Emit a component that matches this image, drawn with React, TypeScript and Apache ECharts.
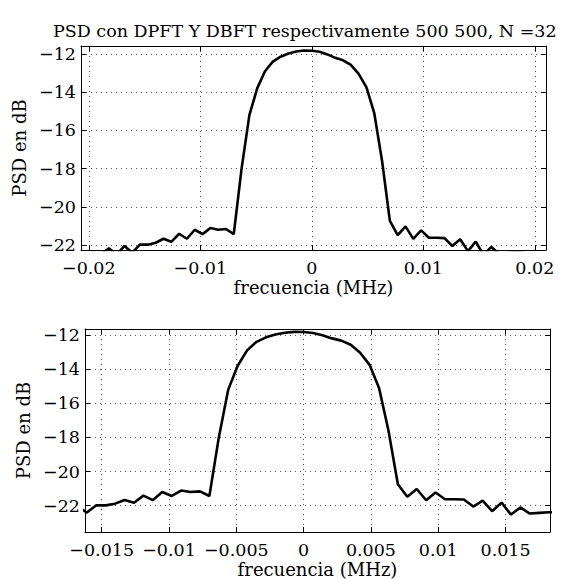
import React, { useEffect, useRef } from "react";
import * as echarts from "echarts";

const freq = [
  -0.0203, -0.0196, -0.0189, -0.0182, -0.0175, -0.0168, -0.0161, -0.0154, -0.0147, -0.014,
  -0.0133, -0.0126, -0.0119, -0.0112, -0.0105, -0.0098, -0.0091, -0.0084, -0.0077, -0.007,
  -0.0063, -0.0056, -0.0049, -0.0042, -0.0035, -0.0028, -0.0021, -0.0014, -0.0007, 0,
  0.0007, 0.0014, 0.0021, 0.0028, 0.0035, 0.0042, 0.0049, 0.0056, 0.0063, 0.007,
  0.0077, 0.0084, 0.0091, 0.0098, 0.0105, 0.0112, 0.0119, 0.0126, 0.0133, 0.014,
  0.0147, 0.0154, 0.0161, 0.0168, 0.0175, 0.0182, 0.0189, 0.0196, 0.0203, 0.021,
];

const psdTop = [
  -22.6, -22.4, -22.5, -22.17, -22.5, -22.05, -22.4, -21.97, -21.98, -21.88,
  -21.67, -21.83, -21.41, -21.67, -21.2, -21.43, -21.11, -21.2, -21.16, -21.43,
  -18.0, -15.2, -13.8, -12.9, -12.4, -12.14, -11.97, -11.87, -11.82, -11.83,
  -11.88, -12.02, -12.2, -12.33, -12.57, -13.04, -13.75, -15.1, -17.6, -20.74,
  -21.48, -21.02, -21.68, -21.23, -21.62, -21.62, -21.64, -22.05, -21.7, -22.32,
  -21.82, -22.52, -22.1, -22.46, -22.42, -22.38, -22.4, -22.5, -22.45, -22.6,
];

const psdBottom = [
  -22.6, -22.4, -22.5, -22.17, -22.5, -22.05, -22.4, -21.97, -21.98, -21.88,
  -21.67, -21.83, -21.41, -21.67, -21.2, -21.43, -21.11, -21.2, -21.16, -21.43,
  -18.0, -15.2, -13.8, -12.9, -12.4, -12.14, -11.97, -11.87, -11.82, -11.83,
  -11.88, -12.02, -12.2, -12.33, -12.57, -13.04, -13.75, -15.1, -17.6, -20.74,
  -21.48, -21.02, -21.68, -21.23, -21.62, -21.62, -21.64, -22.05, -21.7, -22.32,
  -21.82, -22.52, -22.1, -22.46, -22.42, -22.38, -22.4, -22.5, -22.45, -22.6,
];

const xTicksTop = [-0.02, -0.01, 0, 0.01, 0.02];
const xTickLabelsTop = ["\u22120.02", "\u22120.01", "0", "0.01", "0.02"];
const xTicksBottom = [-0.015, -0.01, -0.005, 0, 0.005, 0.01, 0.015];
const xTickLabelsBottom = ["\u22120.015", "\u22120.01", "\u22120.005", "0", "0.005", "0.01", "0.015"];
const yTicks = [-22, -20, -18, -16, -14, -12];
const yTickLabels = ["\u221222", "\u221220", "\u221218", "\u221216", "\u221214", "\u221212"];

const FONT = "DejaVu Serif";

function labelFor(ticks: number[], labels: string[]) {
  return (v: number) => {
    let best = 0;
    let d = Infinity;
    ticks.forEach((t, i) => {
      const dd = Math.abs(t - v);
      if (dd < d) {
        d = dd;
        best = i;
      }
    });
    return labels[best];
  };
}

export default function App() {
  const ref = useRef<HTMLDivElement>(null);
  useEffect(() => {
    if (!ref.current) return;
    const chart = echarts.init(ref.current, undefined, { renderer: "svg" });
    const line = { show: true, onZero: false, lineStyle: { color: "#000", width: 1 } };
    const split = { show: true, lineStyle: { color: "#555", width: 1, type: [1, 4] } };
    const tick = (vals: number[]) => ({
      show: true,
      inside: true,
      length: 5,
      lineStyle: { color: "#000", width: 1 },
      customValues: vals,
    });
    const labelStyle = { color: "#000", fontFamily: FONT, fontSize: 17.5 };
    const nameStyle = { color: "#000", fontFamily: FONT, fontSize: 18 };

    const mkX = (grid: number, min: number, max: number, ticks: number[], labels: string[]) => [
      {
        type: "value",
        gridIndex: grid,
        min,
        max,
        position: "bottom",
        axisLine: line,
        axisTick: tick(ticks),
        splitLine: split,
        axisLabel: {
          ...labelStyle,
          margin: 9,
          customValues: ticks,
          formatter: labelFor(ticks, labels),
        },
        name: "frecuencia (MHz)",
        nameLocation: "middle",
        nameGap: 28,
        nameTextStyle: nameStyle,
      },
      {
        type: "value",
        gridIndex: grid,
        min,
        max,
        position: "top",
        axisLine: line,
        axisTick: tick(ticks),
        splitLine: { show: false },
        axisLabel: { show: false },
      },
    ];
    const mkY = (grid: number, min: number, max: number) => [
      {
        type: "value",
        gridIndex: grid,
        min,
        max,
        position: "left",
        axisLine: line,
        axisTick: tick(yTicks),
        splitLine: split,
        axisLabel: {
          ...labelStyle,
          margin: 5,
          customValues: yTicks,
          formatter: labelFor(yTicks, yTickLabels),
        },
        name: "PSD en dB",
        nameLocation: "middle",
        nameGap: 46,
        nameRotate: 90,
        nameTextStyle: nameStyle,
      },
      {
        type: "value",
        gridIndex: grid,
        min,
        max,
        position: "right",
        axisLine: line,
        axisTick: tick(yTicks),
        splitLine: { show: false },
        axisLabel: { show: false },
      },
    ];

    chart.setOption({
      animation: false,
      backgroundColor: "#fff",
      title: {
        text: "PSD con DPFT Y DBFT respectivamente 500 500, N =32",
        left: 48,
        top: 17,
        textStyle: { color: "#000", fontFamily: FONT, fontSize: 17.5, fontWeight: "normal" },
      },
      grid: [
        { left: 81, right: 30, top: 46, height: 204 },
        { left: 85, right: 26, top: 329, height: 203 },
      ],
      xAxis: [
        ...mkX(0, -0.0207, 0.021, xTicksTop, xTickLabelsTop),
        ...mkX(1, -0.01624, 0.0183, xTicksBottom, xTickLabelsBottom),
      ],
      yAxis: [...mkY(0, -22.26, -11.58), ...mkY(1, -23.54, -11.65)],
      series: [
        {
          type: "line",
          xAxisIndex: 0,
          yAxisIndex: 0,
          data: freq.map((f, i) => [f, psdTop[i]]),
          showSymbol: false,
          lineStyle: { color: "#000", width: 2.6 },
          clip: true,
        },
        {
          type: "line",
          xAxisIndex: 2,
          yAxisIndex: 2,
          data: freq.map((f, i) => [f, psdBottom[i]]),
          showSymbol: false,
          lineStyle: { color: "#000", width: 2.6 },
          clip: true,
        },
      ],
    });
    return () => chart.dispose();
  }, []);
  return (
    <div
      ref={ref}
      style={{ position: "fixed", left: 0, top: 0, width: 576, height: 579, background: "#fff" }}
    />
  );
}
